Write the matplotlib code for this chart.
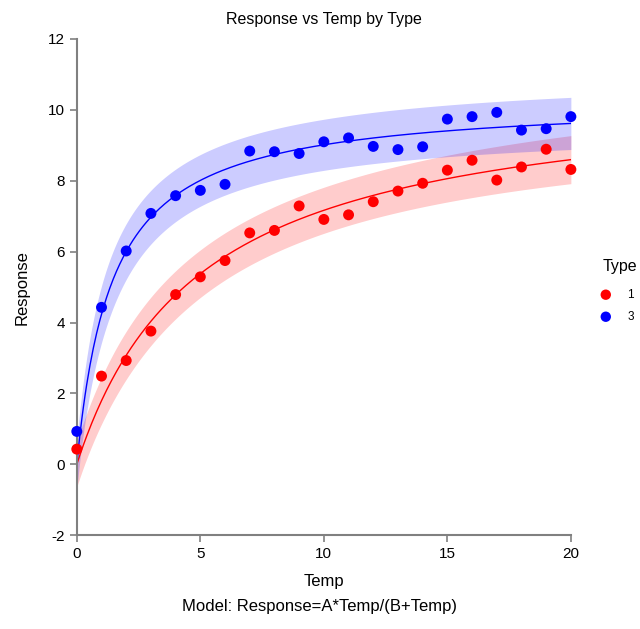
import numpy as np
import matplotlib
matplotlib.use("Agg")
import matplotlib.pyplot as plt

plt.rcParams['font.family'] = ['Liberation Sans', 'DejaVu Sans']
plt.rcParams['axes.unicode_minus'] = False

temp = np.arange(0, 21)
resp_1 = [0.43, 2.49, 2.93, 3.76, 4.79, 5.29, 5.75, 6.53, 6.60, 7.29, 6.91,
          7.04, 7.41, 7.71, 7.93, 8.30, 8.58, 8.02, 8.39, 8.89, 8.32]
resp_3 = [0.93, 4.43, 6.02, 7.08, 7.58, 7.73, 7.90, 8.84, 8.82, 8.77, 9.10,
          9.21, 8.97, 8.88, 8.96, 9.74, 9.81, 9.93, 9.43, 9.47, 9.81]
types = ['1', '3']
colors = ['#ff0000', '#0000ff']


def fit_model(x, y):
    # Response = A*Temp/(B+Temp), grid over B, A by least squares
    best = None
    for b in np.linspace(0.05, 10, 4000):
        f = x / (b + x)
        a = np.dot(f, y) / np.dot(f, f)
        sse = np.sum((y - a * f) ** 2)
        if best is None or sse < best[0]:
            best = (sse, a, b)
    sse, a, b = best
    return a, b, sse


def pred_band(x, y, xs):
    a, b, sse = fit_model(x, y)
    n = len(x)
    s2 = sse / (n - 2)
    J = np.column_stack([x / (b + x), -a * x / (b + x) ** 2])
    cov = s2 * np.linalg.inv(J.T @ J)
    g = np.column_stack([xs / (b + xs), -a * xs / (b + xs) ** 2])
    var = s2 + np.einsum('ij,jk,ik->i', g, cov, g)
    yhat = a * xs / (b + xs)
    t = 2.093
    return yhat, yhat - t * np.sqrt(var), yhat + t * np.sqrt(var)


fig = plt.figure(figsize=(6.4, 6.29), dpi=100)
ax = fig.add_axes([0.120, 0.149, 0.772, 0.789])

xs = np.linspace(0, 20, 300)
for lab, ys, c in zip(types, [resp_1, resp_3], colors):
    ys = np.array(ys)
    yhat, lo, hi = pred_band(temp.astype(float), ys, xs)
    ax.fill_between(xs, lo, hi, color=c, alpha=0.2, linewidth=0)
    ax.plot(xs, yhat, color=c, linewidth=1)
    ax.scatter(temp, ys, s=62, color=c, zorder=3, label=lab,
               edgecolors='none', clip_on=False)

ax.set_xlim(0, 20)
ax.set_ylim(-2, 12)
ax.set_xticks([0, 5, 10, 15, 20])
ax.set_yticks([-2, 0, 2, 4, 6, 8, 10, 12])
for side in ['top', 'right']:
    ax.spines[side].set_visible(False)
for side in ['left', 'bottom']:
    ax.spines[side].set_color('#808080')
    ax.spines[side].set_linewidth(1.5)
ax.tick_params(colors='#808080', labelcolor='black', labelsize=11, length=5, width=1.2)

ax.set_title("Response vs Temp by Type", fontsize=11.5, pad=11)
ax.set_xlabel("Temp", fontsize=12, labelpad=9)
ax.set_ylabel("Response", fontsize=12, labelpad=13)
fig.text(0.5, 0.035, "Model: Response=A*Temp/(B+Temp)", ha='center',
         va='center', fontsize=12)

leg = ax.legend(title='Type', loc='upper left', bbox_to_anchor=(0.941, 0.589),
                bbox_transform=fig.transFigure, frameon=False, fontsize=8.5,
                title_fontsize=11.5, handlelength=0.6, handletextpad=1.5,
                labelspacing=0.85, markerscale=0.95, borderaxespad=0,
                borderpad=0)
leg._legend_box.align = 'left'
leg._legend_box.sep = 11

fig.savefig("out.png", dpi=100)
